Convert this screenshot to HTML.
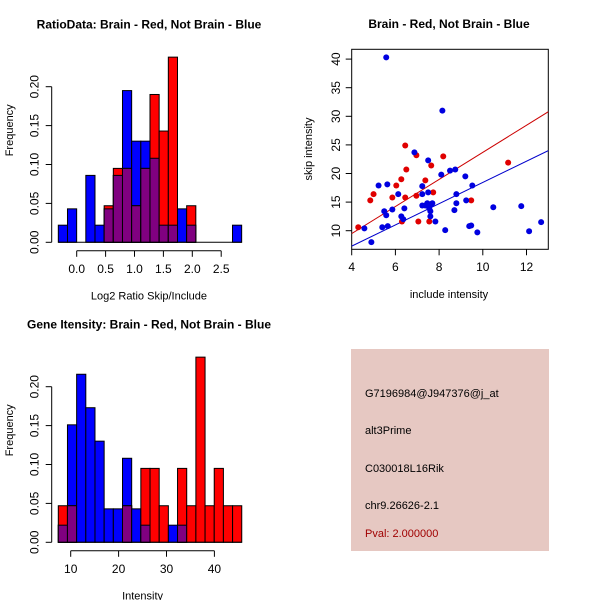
<!DOCTYPE html>
<html><head><meta charset="utf-8"><style>
body{margin:0;background:#fff}
svg{display:block;font-family:"Liberation Sans",sans-serif}
</style></head><body>
<svg id="s" width="600" height="600" viewBox="0 0 600 600">
<rect width="600" height="600" fill="#fff"/>
<g>
<rect x="351" y="349" width="198" height="202" fill="#e6c8c2"/>
<text x="365" y="397" font-size="11">G7196984@J947376@j_at</text>
<text x="365" y="434" font-size="11">alt3Prime</text>
<text x="365" y="472" font-size="11">C030018L16Rik</text>
<text x="365" y="509" font-size="11">chr9.26626-2.1</text>
<text x="365" y="537" font-size="11" fill="#a00000">Pval: 2.000000</text>
</g>
</svg>
<script>
const ratioStart=-0.318, ratioWidth=0.1586;
const ratioBlue=[0.022,0.043,0,0.086,0.022,0.043,0.086,0.195,0.130,0.130,0.108,0.022,0.022,0.043,0.022,0,0,0,0,0.022];
const ratioRed=[0,0,0,0,0,0.047,0.095,0.095,0.047,0.095,0.190,0.143,0.238,0,0.047,0,0,0,0,0];
const ratioTicks=[0,0.5,1,1.5,2,2.5];
const intStart=7.41, intWidth=1.915;
const intBlue=[0.022,0.151,0.216,0.173,0.130,0.043,0.043,0.108,0.043,0.022,0,0,0.022,0.022,0,0,0,0,0,0];
const intRed=[0.047,0.047,0,0,0,0,0,0.047,0,0.095,0.095,0.047,0,0.095,0.047,0.238,0.047,0.095,0.047,0.047];
const intTicks=[10,20,30,40];
const freqTicks=[0,0.05,0.10,0.15,0.20];
const redX=[4.3,4.85,5.0,5.86,6.04,6.27,6.45,6.5,6.45,6.3,6.96,6.96,7.05,7.37,7.64,7.73,7.55,8.19,9.47,11.16];
const redY=[10.6,15.3,16.4,15.8,17.9,19.0,24.9,20.7,15.8,11.6,23.2,16.1,11.6,18.8,21.4,16.7,11.6,23.0,15.3,21.9];
const blueX=[4.58,4.9,5.23,5.49,5.58,5.63,5.58,5.65,5.4,5.86,6.13,6.27,6.36,6.41,6.87,7.23,7.23,7.23,7.5,7.5,7.37,7.46,7.55,7.6,7.64,7.69,7.6,7.83,8.1,8.15,8.28,8.5,8.74,8.7,8.79,8.79,9.2,9.24,9.52,9.38,9.47,9.75,10.48,11.76,12.12,12.67];
const blueY=[10.4,8.0,17.9,13.4,40.3,18.1,12.7,10.8,10.6,13.7,16.4,12.5,12.0,13.9,23.7,17.8,16.4,14.4,22.3,16.7,14.4,14.8,13.9,13.4,14.6,14.8,12.5,11.6,19.8,31.0,10.1,20.5,20.7,13.6,16.4,14.8,19.5,15.3,17.9,10.8,10.9,9.7,14.1,14.3,9.9,11.5];
const redLine=[[4,9.5],[13,30.8]];
const blueLine=[[4,7.3],[13,24]];
const scX=[4,6,8,10,12], scY=[10,15,20,25,30,35,40];

const S=document.getElementById('s');
const NS='http://www.w3.org/2000/svg';
function mk(t,a,p){const e=document.createElementNS(NS,t);for(const k in a)e.setAttribute(k,a[k]);(p||S).appendChild(e);return e;}
function txt(x,y,s,fs,extra){const e=mk('text',Object.assign({x:x,y:y,'font-size':fs,'text-anchor':'middle'},extra||{}));e.textContent=s;return e;}

function hist(name,start,width,blue,red,ticks,fmt,xpx,x0v,ppu,ybase,title,xlab){
  const g=mk('g',{});
  
  
  const X=v=>xpx+(v-x0v)*ppu, Y=v=>ybase-v*778;
  for(let i=0;i<blue.length;i++){
    const a=X(start+i*width), b=X(start+(i+1)*width);
    const lo=Math.min(blue[i],red[i]);
    [[blue[i],'#0000ff','blue'],[red[i],'#ff0000','red']].forEach(([v,c,n])=>{
      if(v>0){const r=mk('rect',{x:a,y:Y(v),width:b-a,height:v*778,fill:c,stroke:'#000','stroke-width':1},g);
      
      }
    });
    if(lo>0){const r=mk('rect',{x:a,y:Y(lo),width:b-a,height:lo*778,fill:'#800080',stroke:'#000','stroke-width':1},g);
    
    }
  }
  mk('line',{x1:X(start),x2:X(start+blue.length*width),y1:ybase,y2:ybase,stroke:'#000'},g);
  const ax=ybase+8.5;
  mk('line',{x1:X(ticks[0]),x2:X(ticks[ticks.length-1]),y1:ax,y2:ax,stroke:'#000'},g);
  ticks.forEach(t=>{mk('line',{x1:X(t),x2:X(t),y1:ax,y2:ax+6,stroke:'#000'},g);
    const e=txt(X(t),ax+22,fmt(t),12);g.appendChild(e);});
  const yx=51.7;
  mk('line',{x1:yx,x2:yx,y1:Y(0),y2:Y(0.2),stroke:'#000'},g);
  freqTicks.forEach(t=>{mk('line',{x1:yx,x2:yx-6,y1:Y(t),y2:Y(t),stroke:'#000'},g);
    const e=txt(yx-13,Y(t),t.toFixed(2),12,{transform:'rotate(-90 '+(yx-13)+' '+Y(t)+')'});g.appendChild(e);});
  const yl=txt(13,ybase-112,'Frequency',11,{transform:'rotate(-90 13 '+(ybase-112)+')'});g.appendChild(yl);
  
  const xl=txt(X((ticks[0]+ticks[ticks.length-1])/2),ybase+57,xlab,11);g.appendChild(xl);
  
  const tt=txt(149,ybase-214,title,12,{'font-weight':'bold'});g.appendChild(tt);
  
}
hist('ratio-histogram',ratioStart,ratioWidth,ratioBlue,ratioRed,ratioTicks,t=>t.toFixed(1),76.7,0,57.8,242.3,'RatioData: Brain - Red, Not Brain - Blue','Log2 Ratio Skip/Include');
hist('intensity-histogram',intStart,intWidth,intBlue,intRed,intTicks,t=>String(t),70.7,10,4.79,542.3,'Gene Itensity: Brain - Red, Not Brain - Blue','Intensity');

// scatter
const sg=mk('g',{});


const SX=v=>351.7+(v-4)*21.85, SY=v=>230.7-(v-10)*5.72;
mk('rect',{x:351.7,y:49.3,width:196.6,height:200,fill:'none',stroke:'#000'},sg);
const cp=mk('clipPath',{id:'cp'},sg);mk('rect',{x:351.7,y:49.3,width:196.6,height:200},cp);
[[redLine,'#cc0000','red-fit-line'],[blueLine,'#0000cc','blue-fit-line']].forEach(([l,c,n])=>{
  const e=mk('line',{x1:SX(l[0][0]),y1:SY(l[0][1]),x2:SX(l[1][0]),y2:SY(l[1][1]),stroke:c,'clip-path':'url(#cp)'},sg);
  
  
});
redX.forEach((x,i)=>{const e=mk('circle',{cx:SX(x),cy:SY(redY[i]),r:3,fill:'#e00000'},sg);
  
  });
blueX.forEach((x,i)=>{const e=mk('circle',{cx:SX(x),cy:SY(blueY[i]),r:3,fill:'#0000e0'},sg);
  
  });
scX.forEach(t=>{mk('line',{x1:SX(t),x2:SX(t),y1:249.3,y2:255.3,stroke:'#000'},sg);sg.appendChild(txt(SX(t),271,String(t),12));});
scY.forEach(t=>{mk('line',{x1:351.7,x2:345.7,y1:SY(t),y2:SY(t),stroke:'#000'},sg);sg.appendChild(txt(340,SY(t),String(t),12,{transform:'rotate(-90 340 '+SY(t)+')'}));});
const sxl=txt(449,298,'include intensity',11);sg.appendChild(sxl);

const syl=txt(312,149,'skip intensity',11,{transform:'rotate(-90 312 149)'});sg.appendChild(syl);

const stt=txt(449,28,'Brain - Red, Not Brain - Blue',12,{'font-weight':'bold'});sg.appendChild(stt);

</script>
</body></html>
